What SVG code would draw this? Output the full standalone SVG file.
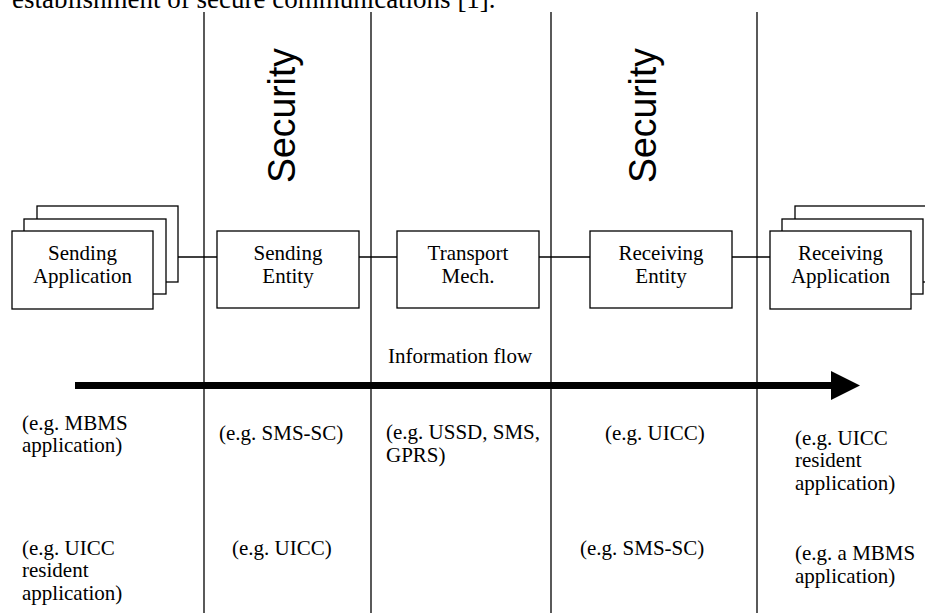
<svg xmlns="http://www.w3.org/2000/svg" width="925" height="613" viewBox="0 0 925 613">
<style>
.box{fill:#fff;stroke:#000;stroke-width:1.3}
.lane{stroke:#000;stroke-width:1.3;fill:none}
.conn{stroke:#000;stroke-width:1.3;fill:none}
.t{font-family:"Liberation Serif","Times New Roman",serif;font-size:21px;fill:#000}
.c{text-anchor:middle}
.sec{font-family:"Liberation Sans",Arial,sans-serif;font-size:38px;fill:#000}
</style>
<rect width="925" height="613" fill="#fff"/>
<text x="12" y="7.5" font-family="'Liberation Serif','Times New Roman',serif" font-size="27" fill="#000">establishment of secure communications [1].</text>
<g id="lanes">
<line class="lane" x1="204" y1="12" x2="204" y2="613"/>
<line class="lane" x1="371" y1="12" x2="371" y2="613"/>
<line class="lane" x1="551" y1="12" x2="551" y2="613"/>
<line class="lane" x1="757" y1="12" x2="757" y2="613"/>
</g>
<g id="security1"><text class="sec" transform="translate(295,183) rotate(-90)" textLength="135" lengthAdjust="spacingAndGlyphs">Security</text></g>
<g id="security2"><text class="sec" transform="translate(656,183) rotate(-90)" textLength="135" lengthAdjust="spacingAndGlyphs">Security</text></g>
<g id="connectors">
<line class="conn" x1="178" y1="257" x2="217" y2="257"/>
<line class="conn" x1="359" y1="257" x2="397" y2="257"/>
<line class="conn" x1="539" y1="257" x2="590" y2="257"/>
<line class="conn" x1="732" y1="257" x2="770" y2="257"/>
<line x1="75" y1="385.5" x2="833" y2="385.5" stroke="#000" stroke-width="7"/>
<polygon points="831,371 860,385.5 831,400" fill="#000"/>
</g>
<g id="sending-application">
<rect class="box" x="37" y="206" width="141" height="76"/>
<rect class="box" x="24" y="219" width="142" height="75"/>
<rect class="box" x="12" y="231" width="141" height="78"/>
<text class="t c" x="82.5" y="260">Sending</text>
<text class="t c" x="82.5" y="283">Application</text>
</g>
<g id="sending-entity">
<rect class="box" x="217" y="231" width="142" height="77"/>
<text class="t c" x="288" y="260">Sending</text>
<text class="t c" x="288" y="283">Entity</text>
</g>
<g id="transport-mech">
<rect class="box" x="397" y="231" width="142" height="77"/>
<text class="t c" x="468" y="260">Transport</text>
<text class="t c" x="468" y="283">Mech.</text>
</g>
<g id="receiving-entity">
<rect class="box" x="590" y="231" width="142" height="77"/>
<text class="t c" x="661" y="260">Receiving</text>
<text class="t c" x="661" y="283">Entity</text>
</g>
<g id="receiving-application">
<rect class="box" x="795" y="206" width="141" height="76"/>
<rect class="box" x="782" y="219" width="141" height="75"/>
<rect class="box" x="770" y="231" width="141" height="78"/>
<text class="t c" x="840.5" y="260">Receiving</text>
<text class="t c" x="840.5" y="283">Application</text>
</g>
<g id="labels">
<text class="t" x="388" y="363">Information flow</text>
<text class="t" x="22" y="430">(e.g. MBMS</text>
<text class="t" x="22" y="452">application)</text>
<text class="t" x="219" y="440">(e.g. SMS-SC)</text>
<text class="t" x="386" y="439">(e.g. USSD, SMS,</text>
<text class="t" x="386" y="462">GPRS)</text>
<text class="t" x="605" y="440">(e.g. UICC)</text>
<text class="t" x="795" y="445">(e.g. UICC</text>
<text class="t" x="795" y="467">resident</text>
<text class="t" x="795" y="490">application)</text>
<text class="t" x="22" y="555">(e.g. UICC</text>
<text class="t" x="22" y="577">resident</text>
<text class="t" x="22" y="600">application)</text>
<text class="t" x="232" y="555">(e.g. UICC)</text>
<text class="t" x="580" y="555">(e.g. SMS-SC)</text>
<text class="t" x="795" y="560">(e.g. a MBMS</text>
<text class="t" x="795" y="583">application)</text>
</g>
</svg>
